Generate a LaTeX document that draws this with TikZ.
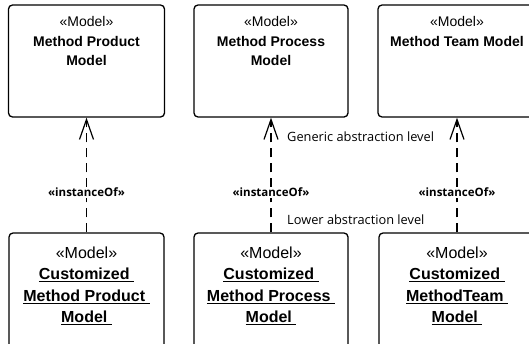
\documentclass[tikz,border=0pt]{standalone}
\usepackage{fontspec}
\setmainfont{Liberation Sans}
\newfontfamily\notefont{Open Sans}
\usetikzlibrary{arrows.meta}
\tikzset{
  modelbox/.style={draw=black, line width=1.3pt, rounded corners=4pt, inner sep=0pt, fill=white},
  toptitle/.style={anchor=north, align=center, inner sep=0pt, text=black,
    font=\fontsize{14}{19.5}\selectfont},
  subtitle/.style={anchor=north, align=center, inner sep=0pt, text=black,
    font=\fontsize{16}{21.5}\selectfont},
  instof/.style={dash pattern=on 9pt off 6pt, line width=1.2pt,
    -{Straight Barb[length=20pt,width=14pt,line width=1.2pt]}},
  deplabel/.style={fill=white, inner sep=1pt, font=\notefont\bfseries\fontsize{11.5}{13}\selectfont},
  levelnote/.style={anchor=west, inner sep=0pt, font=\notefont\fontsize{12.8}{14}\selectfont}
}
\newcommand{\ul}[1]{\underline{#1}}
\begin{document}
\begin{tikzpicture}[x=1pt,y=-1pt]
\useasboundingbox (0,0) rectangle (529,343);
\clip (0,0) rectangle (529,343);

% generic level models
\node[modelbox, minimum width=156pt, minimum height=112pt] (t1) at (86.5,61) {};
\node[modelbox, minimum width=154pt, minimum height=112pt] (t2) at (271,61) {};
\node[modelbox, minimum width=158pt, minimum height=112pt] (t3) at (457,61) {};
\node[toptitle] (t1l) at ([yshift=-12pt]t1.north) {«Model»\\\textbf{Method Product}\\\textbf{Model}};
\node[toptitle] (t2l) at ([yshift=-12pt]t2.north) {«Model»\\\textbf{Method Process}\\\textbf{Model}};
\node[toptitle] (t3l) at ([yshift=-12pt]t3.north) {«Model»\\\textbf{Method Team Model}};

% customized models
\node[modelbox, minimum width=155pt, minimum height=142pt] (b1) at (86.5,304) {};
\node[modelbox, minimum width=154pt, minimum height=142pt] (b2) at (271,304) {};
\node[modelbox, minimum width=156pt, minimum height=142pt] (b3) at (457,304) {};
\node[subtitle] (b1l) at ([yshift=-14pt]b1.north) {«Model»\\\textbf{\ul{Customized\ }}\\\textbf{\ul{Method Product\ }}\\\textbf{\ul{Model\ }}};
\node[subtitle] (b2l) at ([yshift=-14pt]b2.north) {«Model»\\\textbf{\ul{Customized\ }}\\\textbf{\ul{Method Process\ }}\\\textbf{\ul{Model\ }}};
\node[subtitle] (b3l) at ([yshift=-14pt]b3.north) {«Model»\\\textbf{\ul{Customized\ }}\\\textbf{\ul{MethodTeam\ }}\\\textbf{\ul{Model\ }}};

% instance-of dependencies
\draw[instof] (b1.north) -- node[deplabel, pos=0.35] (d1) {«instanceOf»} (t1.south);
\draw[instof] (b2.north) -- node[deplabel, pos=0.35] (d2) {«instanceOf»} (t2.south);
\draw[instof] (b3.north) -- node[deplabel, pos=0.35] (d3) {«instanceOf»} (t3.south);

% abstraction levels
\node[levelnote] (gen) at (287,137) {Generic abstraction level};
\node[levelnote] (low) at (287,220) {Lower abstraction level};
\end{tikzpicture}
\end{document}
